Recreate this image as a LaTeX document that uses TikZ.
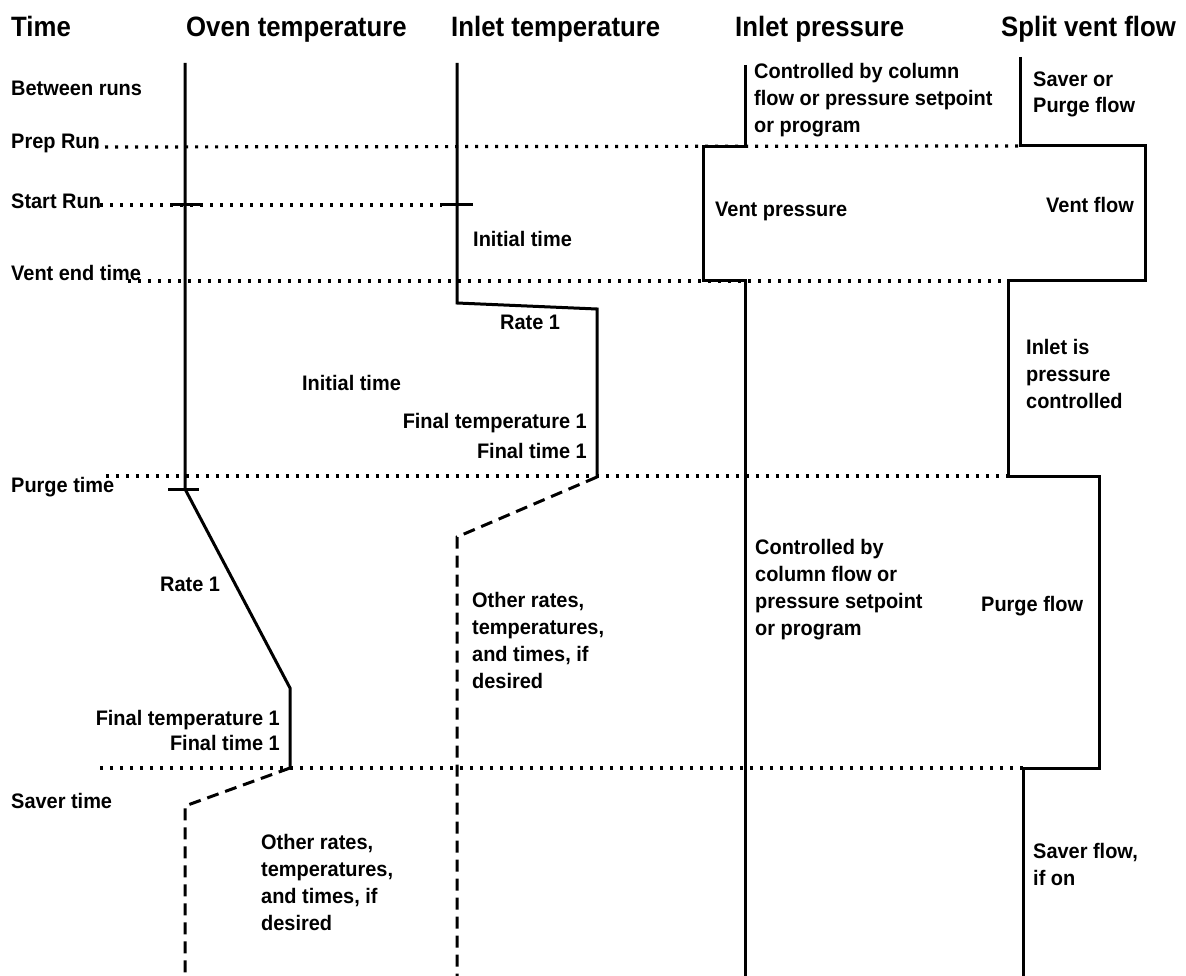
\documentclass[tikz,border=0pt]{standalone}
\usepackage{fontspec}
\setmainfont[FakeStretch=0.95]{Liberation Sans}
\newfontfamily\headfont[FakeStretch=0.92]{Liberation Sans}
\usepackage{tikz}
\usetikzlibrary{positioning}
\tikzset{
  colhead/.style={anchor=base west, inner sep=0pt, font=\headfont\bfseries\fontsize{28}{30}\selectfont},
  rowlabel/.style={anchor=base west, inner sep=0pt, font=\bfseries\fontsize{21}{27}\selectfont},
  note/.style={anchor=base west, inner sep=0pt, align=left, font=\bfseries\fontsize{21}{27}\selectfont},
  rnote/.style={anchor=base east, inner sep=0pt, align=right, font=\bfseries\fontsize{21}{27}\selectfont},
  trace/.style={line width=3pt, line join=miter},
  optional/.style={line width=3pt, dash pattern=on 12pt off 7pt},
  event/.style={line width=3.2pt, dash pattern=on 3.2pt off 6.8pt},
  marker/.style={line width=3pt}
}

\begin{document}
\begin{tikzpicture}[x=1pt,y=-1pt]
  \useasboundingbox (0,0) rectangle (1186,976);

  \node[colhead] (hTime) at (11,37) {Time};
  \node[colhead] (hOven) at (186,37) {Oven temperature};
  \node[colhead] (hInletT) at (451,37) {Inlet temperature};
  \node[colhead] (hInletP) at (735,37) {Inlet pressure};
  \node[colhead] (hSplit) at (1001,37) {Split vent flow};

  \node[rowlabel] (between) at (11,96) {Between runs};
  \node[rowlabel] (prep) at (11,149) {Prep Run};
  \node[rowlabel] (start) at (11,209) {Start Run};
  \node[rowlabel] (ventend) at (11,281) {Vent end time};
  \node[rowlabel] (purge) at (11,492) {Purge time};
  \node[rowlabel] (saver) at (11,808) {Saver time};

  % event lines
  \coordinate (prepL) at (95,147);
  \coordinate (startL) at (100,205);
  \coordinate (startR) at (442,205);
  \coordinate (ventL) at (128,281);
  \coordinate (purgeL) at (106,476);
  \coordinate (saverL) at (100,768);

  % oven temperature
  \coordinate (o0) at (185,63);
  \coordinate (o1) at (185,489);
  \coordinate (o2) at (290,688);
  \coordinate (o3) at (290,768);
  \coordinate (o4) at (185,806);
  \coordinate (o5) at (185,976);

  % inlet temperature
  \coordinate (i0) at (457,63);
  \coordinate (i1) at (457,303);
  \coordinate (i2) at (597,309);
  \coordinate (i3) at (597,477);
  \coordinate (i4) at (457,537);
  \coordinate (i5) at (457,976);

  % inlet pressure
  \coordinate (p0) at (745,65);
  \coordinate (p1) at (745,147);
  \coordinate (p2) at (703,147);
  \coordinate (p3) at (703,281);
  \coordinate (p4) at (745,281);
  \coordinate (p5) at (745,976);

  % split vent flow
  \coordinate (s0) at (1020,57);
  \coordinate (s1) at (1020,146);
  \coordinate (s2) at (1145,146);
  \coordinate (s3) at (1145,281);
  \coordinate (s4) at (1008,281);
  \coordinate (s5) at (1008,476);
  \coordinate (s6) at (1099,476);
  \coordinate (s7) at (1099,768);
  \coordinate (s8) at (1023,768);
  \coordinate (s9) at (1023,976);

  \draw[event] (prepL) -- (s1);
  \draw[event] (startL) -- (startR);
  \draw[event] (ventL) -- (s4);
  \draw[event] (purgeL) -- (s5);
  \draw[event] (saverL) -- (s8);

  \draw[trace] (o0) -- (o1) -- (o2) -- (o3);
  \draw[optional] (o3) -- (o4) -- (o5);
  \draw[trace] (i0) -- (i1) -- (i2) -- (i3);
  \draw[optional] (i3) -- (i4) -- (i5);
  \draw[trace] (p0) -- (p1) -- (p2) -- (p3) -- (p4) -- (p5);
  \draw[trace] (s0) -- (s1) -- (s2) -- (s3) -- (s4) -- (s5) -- (s6) -- (s7) -- (s8) -- (s9);

  \draw[marker] (173,205) -- (203,205);
  \draw[marker] (442,205) -- (473,205);
  \draw[marker] (168,489) -- (199,489);

  % multi-line notes sit on their last baseline
  \node[note] (ctrlTop) at (754,133) {Controlled by column\\flow or pressure setpoint\\or program};
  \node[note] (saverPurge) at (1033,113) {Saver or\\[-1pt]Purge flow};
  \node[note] (ventP) at (715,217) {Vent pressure};
  \node[rnote] (ventF) at (1134,213) {Vent flow};
  \node[note] (initInlet) at (473,247) {Initial time};
  \node[note] (rateInlet) at (500,330) {Rate 1};
  \node[note] (initOven) at (302,390) {Initial time};
  \node[rnote] (finalInlet) at (587,458) {Final temperature 1\\[3pt]Final time 1};
  \node[note] (pressCtrl) at (1026,408) {Inlet is\\pressure\\controlled};
  \node[note] (rateOven) at (160,591) {Rate 1};
  \node[note] (otherInlet) at (472,688) {Other rates,\\temperatures,\\and times, if\\desired};
  \node[note] (ctrlLow) at (755,635) {Controlled by\\column flow or\\pressure setpoint\\or program};
  \node[note] (purgeF) at (981,611) {Purge flow};
  \node[rnote] (finalOven) at (280,750) {Final temperature 1\\[-2pt]Final time 1};
  \node[note] (saverF) at (1033,885) {Saver flow,\\if on};
  \node[note] (otherOven) at (261,930) {Other rates,\\temperatures,\\and times, if\\desired};
\end{tikzpicture}
\end{document}
